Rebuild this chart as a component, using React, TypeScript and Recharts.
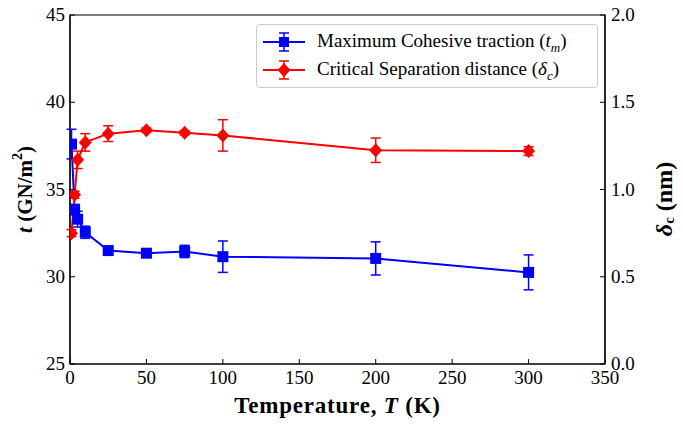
import { ComposedChart, Line, XAxis, YAxis, ErrorBar, ReferenceArea, Label } from 'recharts';

// temperatures (K)
const temps = [1, 3, 5, 10, 25, 50, 75, 100, 200, 300];
// maximum cohesive traction t_m (GN/m^2)
const traction = [37.6, 33.85, 33.3, 32.55, 31.5, 31.35, 31.45, 31.15, 31.05, 30.25];
const tractionErr = [0.85, 0.3, 0.45, 0.35, 0.2, 0.12, 0.35, 0.9, 0.95, 1.0];
// critical separation distance delta_c (nm)
const separation = [0.75, 0.97, 1.17, 1.27, 1.32, 1.34, 1.325, 1.31, 1.225, 1.22];
const separationErr = [0.02, 0.02, 0.05, 0.05, 0.045, 0.012, 0.012, 0.09, 0.07, 0.025];

const xTicks = [0, 50, 100, 150, 200, 250, 300, 350];
const leftTicks = [25, 30, 35, 40, 45];
const rightTicks = [0, 0.5, 1.0, 1.5, 2.0];

const BLUE = '#0000ff';
const RED = '#ff0000';
const FONT = '"Liberation Serif", "DejaVu Serif", serif';
const TICK_FS = 19;

const data = temps.map((T, i) => ({
  T,
  tm: traction[i],
  tmErr: tractionErr[i],
  dc: separation[i],
  dcErr: separationErr[i],
}));

const XTick = ({ x, y, payload }: any) => (
  <g>
    <line x1={x} x2={x} y1={y} y2={y - 5} stroke="#000" strokeWidth={1} />
    <text x={x} y={y + 20} textAnchor="middle" fontFamily={FONT} fontSize={TICK_FS} fill="#000">
      {payload.value}
    </text>
  </g>
);

const LeftTick = ({ x, y, payload }: any) => (
  <g>
    <line x1={x} x2={x + 5} y1={y} y2={y} stroke="#000" strokeWidth={1} />
    <text x={x - 5} y={y + 6} textAnchor="end" fontFamily={FONT} fontSize={TICK_FS} fill="#000">
      {payload.value}
    </text>
  </g>
);

const RightTick = ({ x, y, payload }: any) => (
  <g>
    <line x1={x} x2={x - 5} y1={y} y2={y} stroke="#000" strokeWidth={1} />
    <text x={x + 6} y={y + 6} textAnchor="start" fontFamily={FONT} fontSize={TICK_FS} fill="#000">
      {Number(payload.value).toFixed(1)}
    </text>
  </g>
);

const SquareDot = (p: any) => (
  <rect key={`sq-${p.index}`} x={p.cx - 5.5} y={p.cy - 5.5} width={11} height={11} fill={BLUE} />
);

const DiamondDot = (p: any) => (
  <polygon
    key={`dm-${p.index}`}
    points={`${p.cx},${p.cy - 7} ${p.cx + 6.5},${p.cy} ${p.cx},${p.cy + 7} ${p.cx - 6.5},${p.cy}`}
    fill={RED}
  />
);

const LeftLabel = ({ viewBox }: any) => {
  const cx = 25;
  const cy = viewBox.y + viewBox.height / 2;
  return (
    <text x={cx} y={cy} transform={`rotate(-90, ${cx}, ${cy})`} textAnchor="middle" dominantBaseline="central"
      fontFamily={FONT} fontSize={21} fontWeight="bold" fill="#000">
      <tspan fontStyle="italic">t</tspan> (GN/m<tspan dy={-8} fontSize={14}>2</tspan><tspan dy={8}>)</tspan>
    </text>
  );
};

const RightLabel = () => {
  const cx = 664;
  const cy = 199;
  return (
    <text x={cx} y={cy} transform={`rotate(-90, ${cx}, ${cy})`} textAnchor="middle" dominantBaseline="central"
      fontFamily={FONT} fontSize={24} fontWeight="bold" fill="#000">
      <tspan fontStyle="italic">δ</tspan><tspan dy={5} fontSize={15}>c</tspan><tspan dy={-5}> (nm)</tspan>
    </text>
  );
};

const BottomLabel = ({ viewBox }: any) => {
  const cx = viewBox.x + viewBox.width / 2;
  return (
    <text x={cx} y={413} textAnchor="middle" fontFamily={FONT} fontSize={23} fontWeight="bold" letterSpacing={0.8} fill="#000">
      Temperature, <tspan fontStyle="italic">T</tspan> (K)
    </text>
  );
};

const LegendIcon = ({ color, kind }: { color: string; kind: 'square' | 'diamond' }) => (
  <svg width={46} height={26} style={{ display: 'block' }}>
    <line x1={2} x2={44} y1={13} y2={13} stroke={color} strokeWidth={2} />
    <line x1={23} x2={23} y1={4} y2={22} stroke={color} strokeWidth={1.5} />
    <line x1={18} x2={28} y1={4} y2={4} stroke={color} strokeWidth={1.5} />
    <line x1={18} x2={28} y1={22} y2={22} stroke={color} strokeWidth={1.5} />
    {kind === 'square' ? (
      <rect x={18} y={8} width={10} height={10} fill={color} />
    ) : (
      <polygon points="23,6 29.5,13 23,20 16.5,13" fill={color} />
    )}
  </svg>
);

const ChartLegend = () => (
  <div style={{
    position: 'absolute', left: 256, top: 24, width: 342, boxSizing: 'border-box',
    border: '1px solid #cccccc', borderRadius: 4, background: 'rgba(255,255,255,0.8)',
    padding: '3px 8px 3px 4px', fontFamily: FONT, fontSize: 19, color: '#000', lineHeight: 1,
  }}>
    <div style={{ display: 'flex', alignItems: 'center', height: 28 }}>
      <LegendIcon color={BLUE} kind="square" />
      <span style={{ marginLeft: 10 }}>Maximum Cohesive traction (<i>t</i><sub style={{ fontSize: 13 }}><i>m</i></sub>)</span>
    </div>
    <div style={{ display: 'flex', alignItems: 'center', height: 28 }}>
      <LegendIcon color={RED} kind="diamond" />
      <span style={{ marginLeft: 10 }}>Critical Separation distance (<i>δ</i><sub style={{ fontSize: 13 }}><i>c</i></sub>)</span>
    </div>
  </div>
);

export default function App() {
  return (
    <div style={{ position: 'absolute', left: 0, top: 0, width: 683, height: 424, background: '#fff' }}>
      <ComposedChart width={683} height={424} data={data} margin={{ top: 15, right: 0, bottom: 0, left: 0 }}>
        <XAxis
          dataKey="T" type="number" domain={[0, 350]} ticks={xTicks} allowDataOverflow
          height={60} tickSize={0} tickMargin={0} tick={<XTick />}
          axisLine={{ stroke: '#000', strokeWidth: 1.2 }}
        >
          <Label content={<BottomLabel />} />
        </XAxis>
        <YAxis
          yAxisId="left" orientation="left" type="number" domain={[25, 45]} ticks={leftTicks}
          width={70} tickSize={0} tickMargin={0} tick={<LeftTick />}
          axisLine={{ stroke: '#000', strokeWidth: 1.2 }}
        >
          <Label content={<LeftLabel />} />
        </YAxis>
        <YAxis
          yAxisId="right" orientation="right" type="number" domain={[0, 2]} ticks={rightTicks}
          width={78} tickSize={0} tickMargin={0} tick={<RightTick />}
          axisLine={{ stroke: '#000', strokeWidth: 1.2 }}
        >
          <Label content={<RightLabel />} />
        </YAxis>
        <ReferenceArea yAxisId="left" x1={0} x2={350} y1={25} y2={45} fill="none" stroke="#000" strokeWidth={1.2} />
        <Line
          yAxisId="left" dataKey="tm" stroke={BLUE} strokeWidth={2} dot={SquareDot}
          activeDot={false} isAnimationActive={false} name="tm"
        >
          <ErrorBar dataKey="tmErr" direction="y" width={5} stroke={BLUE} strokeWidth={1.5} />
        </Line>
        <Line
          yAxisId="right" dataKey="dc" stroke={RED} strokeWidth={2} dot={DiamondDot}
          activeDot={false} isAnimationActive={false} name="dc"
        >
          <ErrorBar dataKey="dcErr" direction="y" width={5} stroke={RED} strokeWidth={1.5} />
        </Line>
      </ComposedChart>
      <ChartLegend />
    </div>
  );
}
